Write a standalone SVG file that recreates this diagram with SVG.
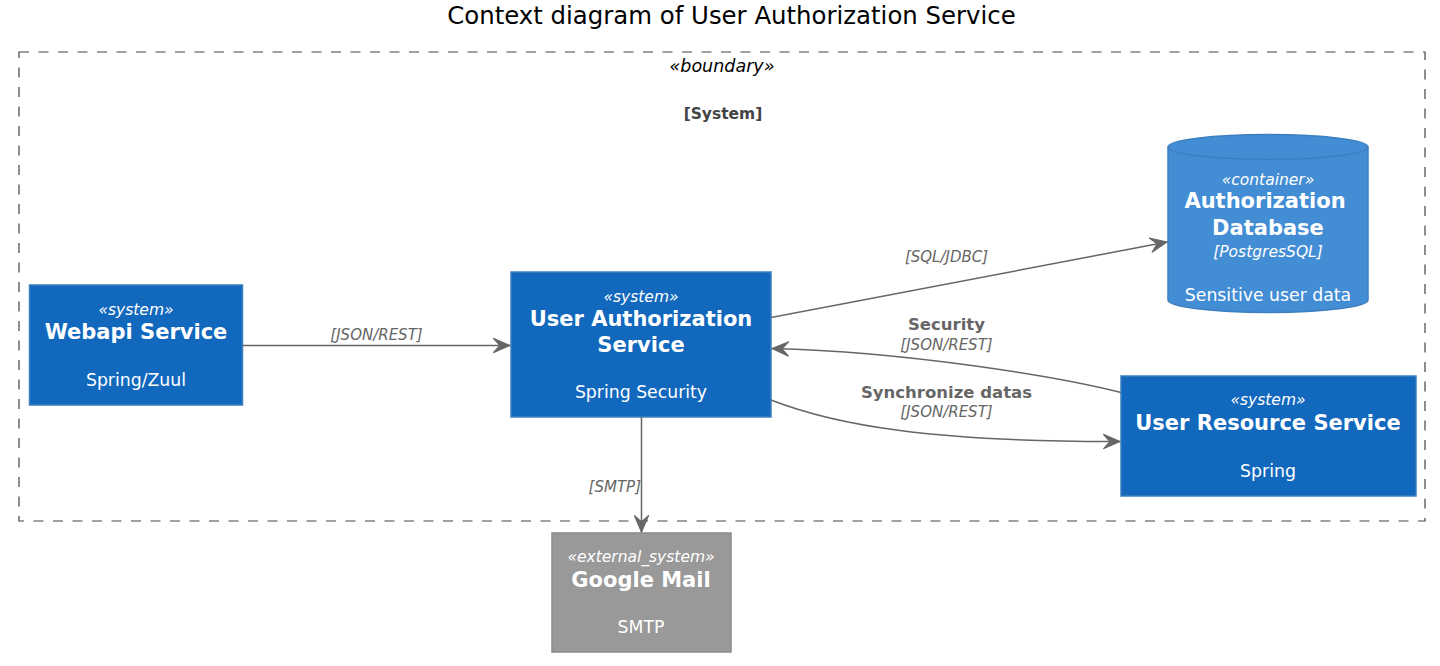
<svg xmlns="http://www.w3.org/2000/svg" width="1440" height="666" viewBox="0 0 1440 666">
<style>
text{font-family:"DejaVu Sans","Liberation Sans",sans-serif;text-anchor:middle}
.st{font-style:italic;font-size:15.5px;fill:#fff}
.nm{font-weight:bold;font-size:21px;fill:#fff}
.bd{font-size:17.3px;fill:#fff}
.sys{fill:#1168BD;stroke:#3C7FC0;stroke-width:1.5}
.ext{fill:#999999;stroke:#8A8A8A;stroke-width:1.5}
.db{fill:#438DD5;stroke:#3C7FC0;stroke-width:1.5}
.ln{fill:none;stroke:#666666;stroke-width:1.5}
.lb{font-weight:bold;font-size:16.5px;fill:#666666}
.lt{font-style:italic;font-size:15px;fill:#666666}
</style>
<defs>
<marker id="arr" markerUnits="userSpaceOnUse" markerWidth="20" markerHeight="20" viewBox="-16 -8 18 16" refX="0" refY="0" orient="auto">
<path d="M0,0 L-15,-6.5 L-9,0 L-15,6.5 Z" fill="#666666" stroke="#666666" stroke-width="1" stroke-linejoin="miter"/>
</marker>
</defs>
<rect width="1440" height="666" fill="#fff"/>
<text x="731.5" y="24" style="font-size:24.4px;fill:#000">Context diagram of User Authorization Service</text>
<g id="boundary">
<rect x="19" y="52" width="1406" height="469" fill="none" stroke="#444444" stroke-width="1.2" stroke-dasharray="10,9.5"/>
<text x="722" y="72" style="font-style:italic;font-size:17.5px;fill:#000">«boundary»</text>
<text x="723" y="119" style="font-weight:bold;font-size:15.5px;fill:#444444">[System]</text>
</g>
<g id="webapi">
<rect class="sys" x="29.5" y="285" width="213" height="120"/>
<text class="st" x="136" y="315">«system»</text>
<text class="nm" x="136" y="339">Webapi Service</text>
<text class="bd" x="136" y="386">Spring/Zuul</text>
</g>
<g id="uas">
<rect class="sys" x="511" y="272" width="260" height="145"/>
<text class="st" x="641" y="302">«system»</text>
<text class="nm" x="641" y="326">User Authorization</text>
<text class="nm" x="641" y="352">Service</text>
<text class="bd" x="641" y="398">Spring Security</text>
</g>
<g id="authdb">
<path class="db" d="M1168,147 A100,12.5 0 0 1 1368,147 L1368,300 A100,12.5 0 0 1 1168,300 Z"/>
<path d="M1168,147 A100,12.5 0 0 0 1368,147" fill="none" stroke="#3C7FC0" stroke-width="1.5"/>
<text class="st" x="1268" y="185">«container»</text>
<text class="nm" x="1265" y="208">Authorization</text>
<text class="nm" x="1268" y="235">Database</text>
<text class="st" x="1268" y="257">[PostgresSQL]</text>
<text class="bd" x="1268" y="301">Sensitive user data</text>
</g>
<g id="urs">
<rect class="sys" x="1121" y="376" width="295" height="120"/>
<text class="st" x="1268" y="405">«system»</text>
<text class="nm" x="1268" y="430">User Resource Service</text>
<text class="bd" x="1268" y="477">Spring</text>
</g>
<g id="gmail">
<rect class="ext" x="552" y="533" width="179" height="119"/>
<text class="st" x="641" y="562">«external_system»</text>
<text class="nm" x="641" y="587">Google Mail</text>
<text class="bd" x="641" y="633">SMTP</text>
</g>
<g id="connectors">
<path class="ln" d="M242.5,345.5 L510,345.5" marker-end="url(#arr)"/>
<text class="lt" x="376.5" y="340">[JSON/REST]</text>
<path class="ln" d="M771,317.5 L1167,242" marker-end="url(#arr)"/>
<text class="lt" x="946.5" y="262">[SQL/JDBC]</text>
<path class="ln" d="M1121,392.5 C1060,377 910,352 772,348.5" marker-end="url(#arr)"/>
<text class="lb" x="946.5" y="330">Security</text>
<text class="lt" x="946.5" y="349.5">[JSON/REST]</text>
<path class="ln" d="M771,400 C835,425 930,442 1120,441.5" marker-end="url(#arr)"/>
<text class="lb" x="946.5" y="398">Synchronize datas</text>
<text class="lt" x="946.5" y="417">[JSON/REST]</text>
<path class="ln" d="M641.5,417 L641.5,532" marker-end="url(#arr)"/>
<text class="lt" x="641" y="492" style="text-anchor:end">[SMTP]</text>
</g>
</svg>
